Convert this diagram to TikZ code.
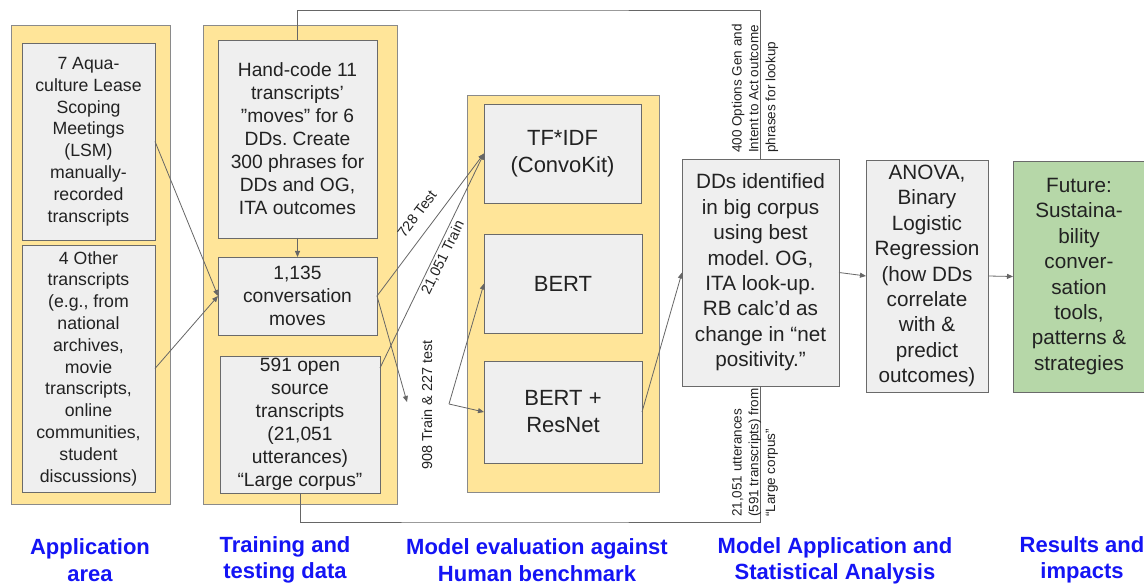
\documentclass[tikz,border=0pt]{standalone}
\usepackage{fontspec}
\setmainfont{Liberation Sans}
\usetikzlibrary{arrows.meta}
\frenchspacing
\definecolor{yel}{HTML}{FFE599}
\definecolor{yeldraw}{HTML}{8A8A8A}
\definecolor{boxfill}{HTML}{EFEFEF}
\definecolor{boxdraw}{HTML}{6A6A6A}
\definecolor{grn}{HTML}{B6D7A8}
\definecolor{lin}{HTML}{666666}
\definecolor{txt}{HTML}{222222}
\definecolor{tblue}{HTML}{1414F5}
\newcommand{\dquote}{\symbol{34}}
\begin{document}
\begin{tikzpicture}[x=1pt,y=-1pt,
  grp/.style={draw=yeldraw, fill=yel, line width=0.9pt, inner sep=0pt, outer sep=0pt},
  bx/.style={draw=boxdraw, fill=boxfill, line width=0.9pt, inner sep=0pt, outer sep=0pt, align=center, text=txt},
  fa/.style={font=\fontsize{17.7}{21.8}\selectfont},
  fb/.style={font=\fontsize{19.2}{23}\selectfont},
  fc/.style={font=\fontsize{22}{27}\selectfont},
  fd/.style={font=\fontsize{20.7}{25.4}\selectfont},
  conn/.style={draw=lin, line width=0.8pt},
  arr/.style={conn, -{Triangle[length=6pt,width=5pt]}},
  small/.style={font=\fontsize{13.5}{16.8}\selectfont, text=txt, inner sep=0pt},
  lbl/.style={font=\fontsize{14.4}{17}\selectfont, text=txt, inner sep=0pt},
  ttl/.style={font=\fontsize{22}{26.5}\selectfont\bfseries, text=tblue, align=center, inner sep=0pt}
]
\clip (0,0) rectangle (1144,585);
\fill[white] (0,0) rectangle (1144,585);

% group containers
\node[grp, minimum width=159pt, minimum height=479pt] (Y1) at (90.5,264.5) {};
\node[grp, minimum width=194pt, minimum height=479pt] (Y2) at (300,264.5) {};
\node[grp, minimum width=192pt, minimum height=397pt] (Y3) at (563,293.5) {};

% application area
\node[bx, fa, minimum width=133pt, minimum height=197pt] (A1) at (88.5,141.5)
  {7 Aqua-\\culture Lease\\Scoping\\Meetings\\(LSM)\\manually-\\recorded\\transcripts};
\node[bx, fa, minimum width=133pt, minimum height=247pt] (A2) at (88.5,368.5)
  {4 Other\\transcripts\\(e.g., from\\national\\archives,\\movie\\transcripts,\\online\\communities,\\student\\discussions)};

% training and testing data
\node[bx, fb, minimum width=159pt, minimum height=198pt] (T1) at (297.5,139)
  {Hand-code 11\\transcripts’\\\dquote moves\dquote{} for 6\\DDs. Create\\300 phrases for\\DDs and OG,\\ITA outcomes};
\node[bx, fb, minimum width=159pt, minimum height=78pt] (T2) at (297.5,296)
  {1,135\\conversation\\moves};
\node[bx, fb, minimum width=160pt, minimum height=137pt] (T3) at (300,424.5)
  {591 open\\source\\transcripts\\(21,051\\utterances)\\“Large corpus”};

% model evaluation
\node[bx, fc, minimum width=157pt, minimum height=99pt] (M1) at (562.5,153.5) {TF*IDF\\(ConvoKit)};
\node[bx, fc, minimum width=158pt, minimum height=99pt] (M2) at (563,283.5) {BERT};
\node[bx, fc, minimum width=158pt, minimum height=102pt] (M3) at (563,412) {BERT +\\ResNet};

% application and analysis
\node[bx, fd, minimum width=157pt, minimum height=227pt] (DD) at (760.5,272.5)
  {DDs identified\\in big corpus\\using best\\model. OG,\\ITA look-up.\\RB calc’d as\\change in “net\\positivity.”};
\node[bx, fd, minimum width=122pt, minimum height=232pt] (AN) at (927,276)
  {ANOVA,\\Binary\\Logistic\\Regression\\(how DDs\\correlate\\with \&\\predict\\outcomes)};
\node[bx, fd, fill=grn, minimum width=132pt, minimum height=231pt] (FU) at (1079,276.5)
  {Future:\\Sustaina-\\bility\\conver-\\sation\\tools,\\patterns \&\\strategies};

% helper coordinates
\coordinate (topc) at (500,10);
\coordinate (botc) at (500,522);
\coordinate (f1) at (407,402);
\coordinate (f2) at (449,404);

% connectors
\draw[arr] (A1.east) -- (T2.west);
\draw[arr] (A2.east) -- (T2.west);
\draw[arr] (T1.south) -- (T2.north);
\draw[arr] (T2.east) -- (M1.west);
\draw[arr] ([yshift=-12pt]T3.north east) -- (M1.west);
\draw[arr] (T2.east) -- (f1);
\draw[arr] (f2) -- (M2.west);
\draw[arr] (f2) -- (M3.west);
\draw[arr] (M3.east) -- (DD.west);
\draw[arr] (DD.east) -- (AN.west);
\draw[arr] (AN.east) -- (FU.west);
\draw[conn] (T1.north) |- (topc) -| (DD.north);
\draw[conn] (T3.south) |- (botc) -| (DD.south);

% connector labels
\node[lbl, rotate=53] (l728) at (417,214) {728 Test};
\node[lbl, rotate=64] (l21) at (443,258) {21,051 Train};
\node[lbl, rotate=90] (l908) at (427,405) {908 Train \& 227 test};
\node[small, rotate=90, anchor=west, align=left] (ltop) at (755,153)
  {400 Options Gen and\\Intent to Act outcome\\phrases for lookup};
\node[small, rotate=90, anchor=west, align=left] (lbot) at (755,517)
  {21,051 utterances\\(591 transcripts) from\\“Large corpus”};

% section titles
\node[ttl] (s1) at (90,560) {Application\\area};
\node[ttl] (s2) at (285,560) {Training and\\testing data};
\node[ttl] (s3) at (537,560) {Model evaluation against\\Human benchmark};
\node[ttl] (s4) at (835,561) {Model Application and\\Statistical Analysis};
\node[ttl] (s5) at (1082,560) {Results and\\impacts};
\end{tikzpicture}
\end{document}
